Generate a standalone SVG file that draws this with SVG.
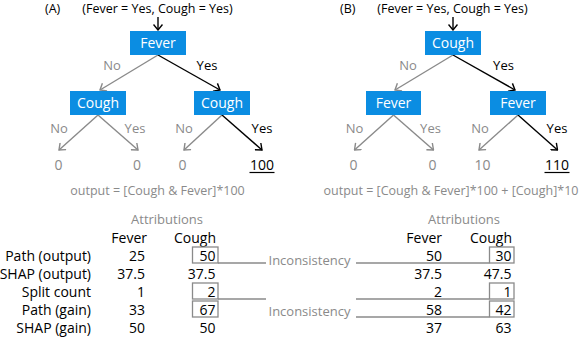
<svg xmlns="http://www.w3.org/2000/svg" width="581" height="339" viewBox="0 0 581 339">
<style>
text{font-family:"Open Sans","Liberation Sans",sans-serif}
.t{font-size:12.5px;fill:#000}
.box{fill:#0b8de2}
.bt{font-size:14px;fill:#fff;text-anchor:middle}
.lab{font-size:13px;fill:#8a8a8a;text-anchor:middle}
.labk{font-size:13px;fill:#000;text-anchor:middle}
.leaf{font-size:14px;fill:#8a8a8a;text-anchor:middle}
.leafk{font-size:14px;fill:#000;text-anchor:middle}
.out{font-size:12.5px;fill:#8a8a8a;text-anchor:middle}
.g{stroke:#8a8a8a;stroke-width:1.4;fill:none;marker-end:url(#ag)}
.k{stroke:#000;stroke-width:1.4;fill:none;marker-end:url(#ak)}
.ul{stroke:#000;stroke-width:1.2}
.att{font-size:13px;fill:#8a8a8a;text-anchor:middle}
.tab{font-size:14px;fill:#000;text-anchor:end}
.cell{fill:none;stroke:#8a8a8a;stroke-width:1.3}
.cl{stroke:#8a8a8a;stroke-width:1.3;fill:none}
.inc{font-size:13px;fill:#8a8a8a}
</style>
<defs>
<marker id="ak" viewBox="-7 -5 8 10" refX="0" refY="0" markerWidth="8" markerHeight="10" markerUnits="userSpaceOnUse" orient="auto"><path d="M-5.5,-4.5 L0,0 L-5.5,4.5" fill="none" stroke="#000" stroke-width="1.4"/></marker>
<marker id="ag" viewBox="-7 -5 8 10" refX="0" refY="0" markerWidth="8" markerHeight="10" markerUnits="userSpaceOnUse" orient="auto"><path d="M-5.5,-4.5 L0,0 L-5.5,4.5" fill="none" stroke="#8a8a8a" stroke-width="1.4"/></marker>
</defs>

<!-- Tree A -->
<text class="t" x="45" y="13">(A)</text>
<text class="t" x="157.5" y="13" text-anchor="middle">(Fever = Yes, Cough = Yes)</text>
<g id="A-connectors">
<path class="k" d="M158,17 L158,30"/>
<path class="g" d="M158,55 L100,90"/>
<path class="k" d="M158,55 L220,90"/>
<path class="g" d="M98,115 L59,150"/>
<path class="g" d="M98,115 L138,150"/>
<path class="g" d="M222,115 L184,150"/>
<path class="k" d="M222,115 L262,150"/>
<text class="lab" x="112" y="70">No</text>
<text class="labk" x="207" y="70">Yes</text>
<text class="lab" x="59" y="133">No</text>
<text class="lab" x="135" y="133">Yes</text>
<text class="lab" x="184" y="133">No</text>
<text class="labk" x="262" y="133">Yes</text>
</g>
<g id="A-root"><rect class="box" x="130" y="31" width="56" height="24"/><text class="bt" x="158" y="48">Fever</text></g>
<g id="A-left"><rect class="box" x="70" y="91" width="56" height="24"/><text class="bt" x="98" y="108">Cough</text></g>
<g id="A-right"><rect class="box" x="194" y="91" width="56" height="24"/><text class="bt" x="222" y="108">Cough</text></g>
<g id="A-leaf1"><text class="leaf" x="58.5" y="170">0</text></g>
<g id="A-leaf2"><text class="leaf" x="137" y="170">0</text></g>
<g id="A-leaf3"><text class="leaf" x="182.5" y="170">0</text></g>
<g id="A-leaf4"><text class="leafk" x="262" y="170">100</text><line class="ul" x1="249.5" y1="172.5" x2="274.5" y2="172.5"/></g>
<text class="out" x="157.5" y="195">output = [Cough &amp; Fever]*100</text>

<!-- Tree B -->
<text class="t" x="340" y="13">(B)</text>
<text class="t" x="452.5" y="13" text-anchor="middle">(Fever = Yes, Cough = Yes)</text>
<g id="B-connectors">
<path class="k" d="M453,17 L453,30"/>
<path class="g" d="M453,55 L395,90"/>
<path class="k" d="M453,55 L515,90"/>
<path class="g" d="M393.5,115 L354.5,150"/>
<path class="g" d="M393.5,115 L433.5,150"/>
<path class="g" d="M518,115 L479,150"/>
<path class="k" d="M518,115 L557.5,150"/>
<text class="lab" x="408" y="70">No</text>
<text class="labk" x="503.5" y="70">Yes</text>
<text class="lab" x="354.5" y="133">No</text>
<text class="lab" x="430.5" y="133">Yes</text>
<text class="lab" x="480" y="133">No</text>
<text class="labk" x="557" y="133">Yes</text>
</g>
<g id="B-root"><rect class="box" x="425" y="31" width="56" height="24"/><text class="bt" x="453" y="48">Cough</text></g>
<g id="B-left"><rect class="box" x="366" y="91" width="55" height="24"/><text class="bt" x="393.5" y="108">Fever</text></g>
<g id="B-right"><rect class="box" x="490" y="91" width="56" height="24"/><text class="bt" x="518" y="108">Fever</text></g>
<g id="B-leaf1"><text class="leaf" x="353.5" y="170">0</text></g>
<g id="B-leaf2"><text class="leaf" x="432.5" y="170">0</text></g>
<g id="B-leaf3"><text class="leaf" x="482.5" y="170">10</text></g>
<g id="B-leaf4"><text class="leafk" x="557" y="170">110</text><line class="ul" x1="544.5" y1="172.5" x2="569.5" y2="172.5"/></g>
<text class="out" x="451" y="195">output = [Cough &amp; Fever]*100 + [Cough]*10</text>

<!-- Left table -->
<g id="table-left">
<text class="att" x="167" y="224">Attributions</text>
<text class="tab" x="147" y="243">Fever</text>
<text class="tab" x="216" y="243">Cough</text>
<text class="tab" x="91" y="261">Path (output)</text>
<text class="tab" x="91" y="279">SHAP (output)</text>
<text class="tab" x="91" y="297">Split count</text>
<text class="tab" x="91" y="315">Path (gain)</text>
<text class="tab" x="91" y="333">SHAP (gain)</text>
<text class="tab" x="145" y="261">25</text>
<text class="tab" x="145" y="279">37.5</text>
<text class="tab" x="145" y="297">1</text>
<text class="tab" x="145" y="315">33</text>
<text class="tab" x="145" y="333">50</text>
<rect class="cell" x="192.5" y="247" width="25.5" height="16"/>
<rect class="cell" x="192.5" y="283" width="25.5" height="16"/>
<rect class="cell" x="192.5" y="301" width="25.5" height="16"/>
<text class="tab" x="215.5" y="261">50</text>
<text class="tab" x="215.5" y="279">37.5</text>
<text class="tab" x="215.5" y="297">2</text>
<text class="tab" x="215.5" y="315">67</text>
<text class="tab" x="215.5" y="333">50</text>
</g>

<!-- Right table -->
<g id="table-right">
<text class="att" x="464" y="224">Attributions</text>
<text class="tab" x="442" y="243">Fever</text>
<text class="tab" x="512" y="243">Cough</text>
<text class="tab" x="442" y="261">50</text>
<text class="tab" x="442" y="279">37.5</text>
<text class="tab" x="442" y="297">2</text>
<text class="tab" x="442" y="315">58</text>
<text class="tab" x="442" y="333">37</text>
<rect class="cell" x="489.5" y="247" width="24.5" height="16"/>
<rect class="cell" x="489.5" y="283" width="24.5" height="16"/>
<rect class="cell" x="489.5" y="301" width="24.5" height="16"/>
<text class="tab" x="511.5" y="261">30</text>
<text class="tab" x="511.5" y="279">47.5</text>
<text class="tab" x="511.5" y="297">1</text>
<text class="tab" x="511.5" y="315">42</text>
<text class="tab" x="511.5" y="333">63</text>
</g>

<!-- Inconsistency connectors -->
<g id="inconsistency">
<path class="cl" d="M218,263 H266 M356,263 H489.5"/>
<text class="inc" x="268.5" y="265">Inconsistency</text>
<path class="cl" d="M218,299 H266 M356,299 H489.5 M356,317 H489.5"/>
<text class="inc" x="268.5" y="316">Inconsistency</text>
</g>
</svg>
